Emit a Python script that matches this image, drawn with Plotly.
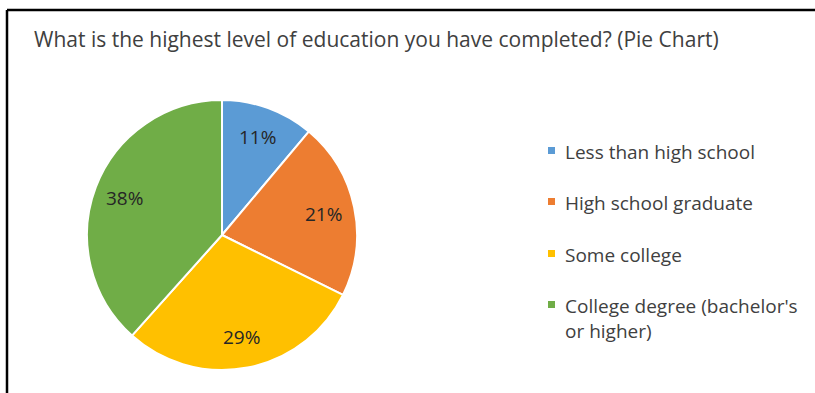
import math
import plotly.graph_objects as go

# Survey answers: share of respondents by highest education level completed
categories = [
    "Less than high school",
    "High school graduate",
    "Some college",
    "College degree (bachelor's<br>or higher)",
]
shares = [11, 21, 29, 38]
colors = ["#5B9BD5", "#ED7D31", "#FFC000", "#70AD47"]
title_text = "What is the highest level of education you have completed? (Pie Chart)"

W, H = 815, 393
FONT = "Open Sans"

# Pie placement in pixels (center and radius)
CX, CY, R = 222, 235, 135

fig = go.Figure(
    go.Pie(
        labels=categories,
        values=shares,
        sort=False,
        direction="clockwise",
        rotation=0,
        marker=dict(colors=colors, line=dict(color="white", width=2)),
        textinfo="none",
        hoverinfo="label+percent",
        showlegend=False,
        domain=dict(x=[(CX - R) / W, (CX + R) / W],
                    y=[1 - (CY + R) / H, 1 - (CY - R) / H]),
    )
)

annotations = [
    dict(
        text=title_text,
        x=32 / W, y=1 - 39 / H, xref="paper", yref="paper",
        xanchor="left", yanchor="middle", showarrow=False,
        font=dict(family=FONT, size=21, color="#404040"),
    )
]

# Percentage labels placed at the middle angle of each slice, out toward the rim
total = sum(shares)
cum = 0
for v in shares:
    mid = (cum + v / 2) / total * 2 * math.pi
    cum += v
    lx = CX + 0.77 * R * math.sin(mid)
    ly = CY - 0.77 * R * math.cos(mid)
    annotations.append(dict(
        text=f"{v}%", x=lx / W, y=1 - ly / H, xref="paper", yref="paper",
        xanchor="center", yanchor="middle", showarrow=False,
        font=dict(family=FONT, size=19, color="#262626"),
    ))

# Legend drawn as colored squares with text labels, one row per category
legend_rows = [151, 202, 254, 305]
shapes = []
for cat, col, ry in zip(categories, colors, legend_rows):
    shapes.append(dict(
        type="rect", xref="paper", yref="paper",
        x0=548 / W, x1=555 / W, y0=1 - (ry + 3) / H, y1=1 - (ry - 4) / H,
        fillcolor=col, line=dict(width=0),
    ))
    annotations.append(dict(
        text=cat, x=563 / W, y=1 - (ry - 14) / H, xref="paper", yref="paper",
        xanchor="left", yanchor="top", align="left", showarrow=False,
        font=dict(family=FONT, size=19, color="#404040"),
    ))

# Chart frame: left and top edges
shapes.append(dict(type="line", xref="paper", yref="paper",
                   x0=7 / W, x1=7 / W, y0=0, y1=1 - 10 / H,
                   line=dict(color="black", width=2.5)))
shapes.append(dict(type="line", xref="paper", yref="paper",
                   x0=7 / W, x1=1, y0=1 - 10 / H, y1=1 - 10 / H,
                   line=dict(color="black", width=2.5)))

fig.update_layout(
    width=W, height=H,
    margin=dict(l=0, r=0, t=0, b=0),
    paper_bgcolor="white",
    plot_bgcolor="white",
    annotations=annotations,
    shapes=shapes,
)

fig.write_html("out.html")
